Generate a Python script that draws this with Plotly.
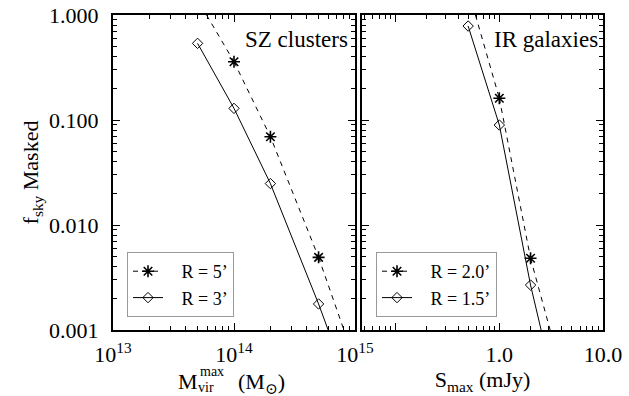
import plotly.graph_objects as go

# ---------------- data ----------------
# SZ clusters (left panel)
sz_mass_r3 = [5e13, 1e14, 2e14, 5e14]
sz_fsky_r3 = [0.537, 0.129, 0.0248, 0.00177]
sz_mass_r5 = [1e14, 2e14, 5e14]
sz_fsky_r5 = [0.359, 0.0693, 0.00492]
# curve continuations beyond the marked points
sz_r3_tail_mass = [5e14, 6.0e14]
sz_r3_tail_fsky = [0.00177, 0.001]
sz_r5_head_mass = [5.93e13, 1e14]
sz_r5_head_fsky = [1.0, 0.359]
sz_r5_tail_mass = [5e14, 8.1e14]
sz_r5_tail_fsky = [0.00492, 0.001]

# IR galaxies (right panel)
ir_s_r15 = [0.5, 1.0, 2.0]
ir_fsky_r15 = [0.785, 0.0896, 0.00268]
ir_s_r20 = [1.0, 2.0]
ir_fsky_r20 = [0.161, 0.00482]
ir_r15_tail_s = [2.0, 2.53]
ir_r15_tail_fsky = [0.00268, 0.001]
ir_r20_head_s = [0.588, 1.0]
ir_r20_head_fsky = [1.0, 0.161]
ir_r20_tail_s = [2.0, 3.09]
ir_r20_tail_fsky = [0.00482, 0.001]

y_tickvals = [0.001, 0.01, 0.1, 1.0]
y_ticktext = ["0.001", "0.010", "0.100", "1.000"]
x1_tickvals = [1e13, 1e14, 1e15]
x1_ticktext = ["10<sup>13</sup>", "10<sup>14</sup>", "10<sup>15</sup>"]
x2_tickvals = [0.1, 1.0, 10.0]
x2_ticktext = ["", "1.0", "10.0"]

FONT = "Liberation Serif, Times New Roman, Times, DejaVu Serif, serif"
W, H = 629, 396
PAD = "\u00a0\u00a0\u00a0"

def minors(exps):
    return [k * 10.0 ** e for e in exps for k in range(2, 10)]

fig = go.Figure()

def add_series(xs, ys, xa, ya, name, symbol, dash, legend, heads):
    star = symbol != "diamond-open"
    fig.add_trace(go.Scatter(
        x=xs, y=ys, xaxis=xa, yaxis=ya, name=PAD + name, mode="lines+markers",
        line=dict(color="black", width=1, dash=dash),
        marker=dict(symbol=symbol, size=10 if star else 8,
                    color="black", line=dict(color="black", width=1.6 if star else 1)),
        legend=legend, legendgroup=name + legend))
    for hx, hy in heads:
        fig.add_trace(go.Scatter(
            x=hx, y=hy, xaxis=xa, yaxis=ya, mode="lines", showlegend=False,
            line=dict(color="black", width=1, dash=dash), hoverinfo="skip",
            legendgroup=name + legend))

DASH = "5px,5px"
add_series(sz_mass_r5, sz_fsky_r5, "x", "y", "R = 5’", "asterisk-open", DASH, "legend",
           [(sz_r5_head_mass, sz_r5_head_fsky), (sz_r5_tail_mass, sz_r5_tail_fsky)])
add_series(sz_mass_r3, sz_fsky_r3, "x", "y", "R = 3’", "diamond-open", "solid", "legend",
           [(sz_r3_tail_mass, sz_r3_tail_fsky)])
add_series(ir_s_r20, ir_fsky_r20, "x2", "y2", "R = 2.0’", "asterisk-open", DASH, "legend2",
           [(ir_r20_head_s, ir_r20_head_fsky), (ir_r20_tail_s, ir_r20_tail_fsky)])
add_series(ir_s_r15, ir_fsky_r15, "x2", "y2", "R = 1.5’", "diamond-open", "solid", "legend2",
           [(ir_r15_tail_s, ir_r15_tail_fsky)])

axis_common = dict(
    type="log", showgrid=False, zeroline=False, showline=True, linecolor="black",
    linewidth=2, ticks="inside", ticklen=7, tickwidth=1.3, tickcolor="black",
    mirror="allticks", tickfont=dict(family=FONT, size=22, color="black"),
    tickmode="array", automargin=False,
)
minor_common = dict(ticks="inside", ticklen=4, tickwidth=1, tickcolor="black", showgrid=False,
                    tickmode="array")

px = lambda a, b: [a / W, b / W]
py = lambda top, bot: [(H - bot) / H, (H - top) / H]

legend_common = dict(xanchor="left", yanchor="top", bordercolor="#999999", borderwidth=1,
                     bgcolor="white", font=dict(family=FONT, size=18, color="black"),
                     tracegroupgap=0, itemwidth=30)

fig.update_layout(
    width=W, height=H, margin=dict(l=0, r=0, t=0, b=0, autoexpand=False),
    paper_bgcolor="white", plot_bgcolor="white",
    font=dict(family=FONT, color="black", size=22),
    xaxis=dict(axis_common, domain=px(113, 355), range=[13, 15], anchor="y",
               tickvals=x1_tickvals, ticktext=x1_ticktext, ticklabelstandoff=4,
               minor=dict(minor_common, tickvals=minors([13, 14]))),
    yaxis=dict(axis_common, domain=py(15, 330), range=[-3, 0],
               tickvals=y_tickvals, ticktext=y_ticktext, ticklabelstandoff=8,
               minor=dict(minor_common, tickvals=minors([-3, -2, -1])),
               title=dict(text="f<sub>sky</sub> Masked", font=dict(family=FONT, size=22),
                          standoff=4)),
    xaxis2=dict(axis_common, domain=px(362, 603), range=[-1.325, 1], anchor="y2",
                tickvals=x2_tickvals, ticktext=x2_ticktext, ticklabelstandoff=4,
                minor=dict(minor_common, tickvals=minors([-2, -1, 0])),
                title=dict(text="S<sub>max</sub> (mJy)", font=dict(family=FONT, size=22),
                           standoff=4)),
    yaxis2=dict(axis_common, domain=py(15, 330), range=[-3, 0], anchor="x2",
                tickvals=y_tickvals, ticktext=y_ticktext, showticklabels=False,
                minor=dict(minor_common, tickvals=minors([-3, -2, -1]))),
    legend=dict(legend_common, x=127 / W, y=(H - 252) / H),
    legend2=dict(legend_common, x=376 / W, y=(H - 252) / H),
    showlegend=True,
)

# panel labels
fig.add_annotation(text="SZ clusters", xref="paper", yref="paper", x=350 / W, y=(H - 25) / H,
                   xanchor="right", yanchor="top", showarrow=False,
                   font=dict(family=FONT, size=23, color="black"))
fig.add_annotation(text="IR galaxies", xref="paper", yref="paper", x=600 / W, y=(H - 25) / H,
                   xanchor="right", yanchor="top", showarrow=False,
                   font=dict(family=FONT, size=23, color="black"))

# left x-axis title: M_vir^max (M_sun), built from stacked pieces
def txt(text, x_px, y_px, size, anchor="left"):
    fig.add_annotation(text=text, xref="paper", yref="paper", x=x_px / W, y=(H - y_px) / H,
                       xanchor=anchor, yanchor="middle", showarrow=False, borderpad=0,
                       font=dict(family=FONT, size=size, color="black"))

txt("M", 177, 381, 22)
txt("vir", 197, 387, 14)
txt("max", 199, 371, 14)
txt("(M<sub>⊙</sub>)", 237, 383, 22)

fig.write_html("out.html", config={"displayModeBar": False},
               post_script="document.body.style.margin='0';document.body.style.overflow='hidden';")
